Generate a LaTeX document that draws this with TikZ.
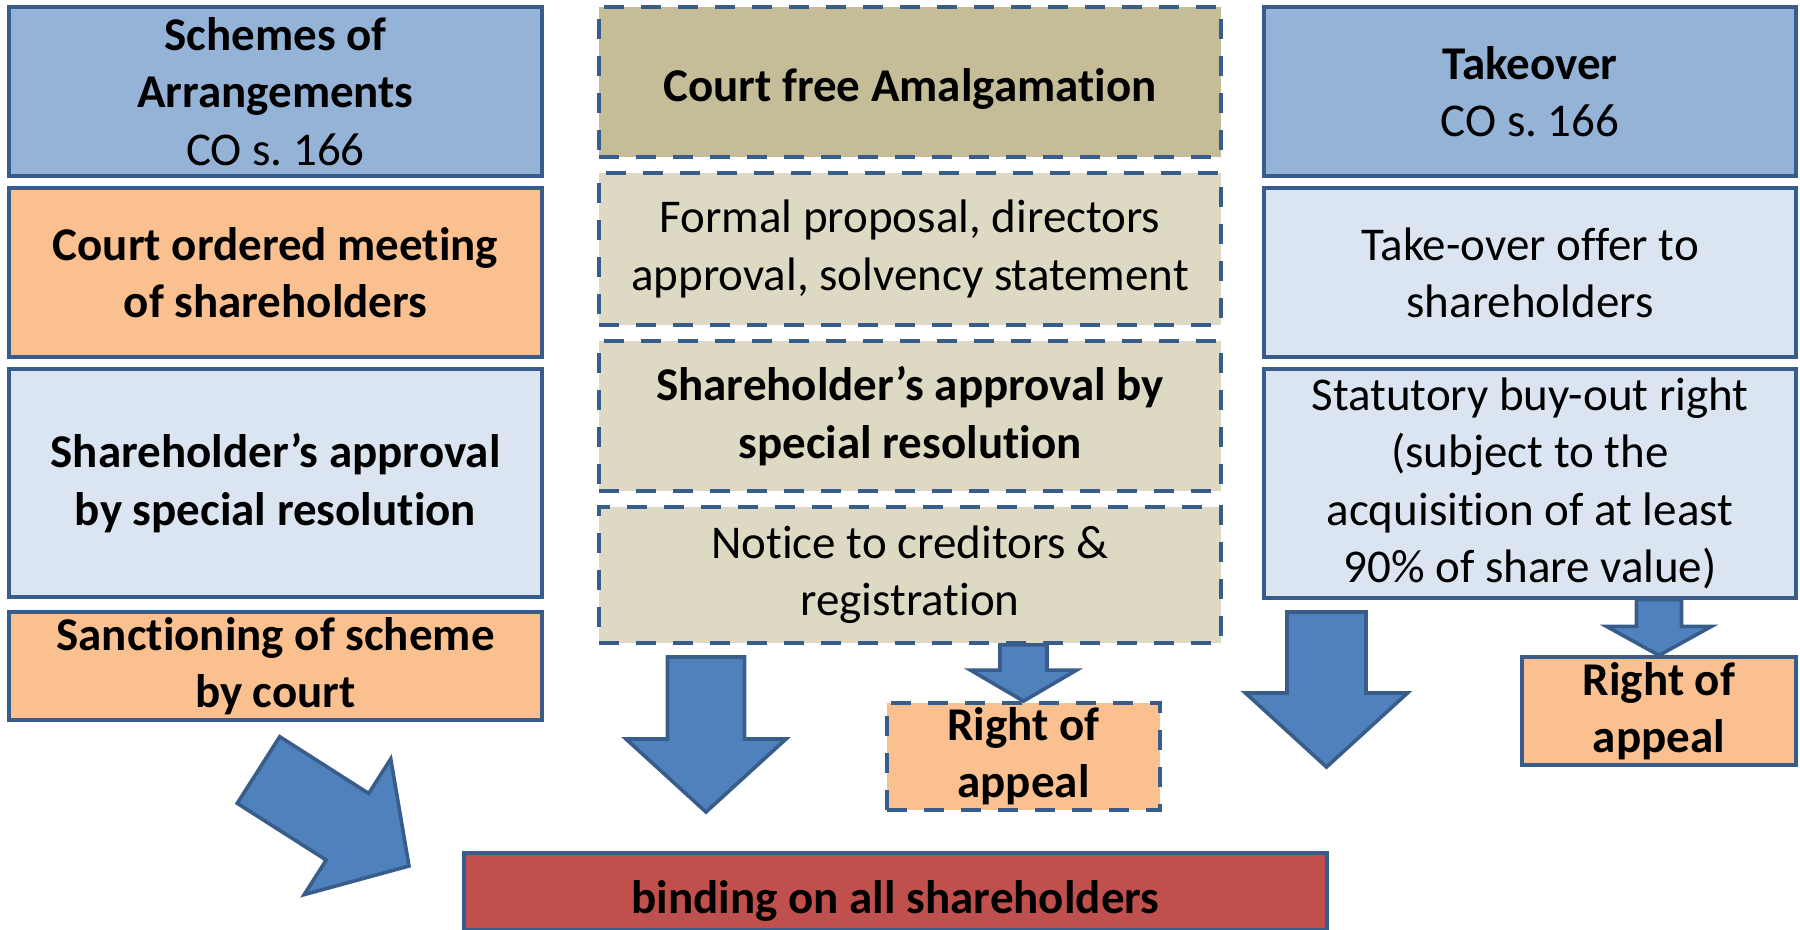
\documentclass[tikz,border=0pt]{standalone}
\usepackage{fontspec}
\setmainfont[Ligatures={NoCommon}]{Carlito}
\usetikzlibrary{calc}

\definecolor{boxline}{HTML}{385D8A}
\definecolor{headblue}{HTML}{95B3D7}
\definecolor{paleblue}{HTML}{DBE5F1}
\definecolor{peach}{HTML}{FAC090}
\definecolor{khaki}{HTML}{C4BD97}
\definecolor{palekhaki}{HTML}{DDD9C3}
\definecolor{brick}{HTML}{C0504D}
\definecolor{arrowblue}{HTML}{4F81BD}

\newcommand{\boxfont}{\fontsize{26.75}{32.6}\selectfont}
\frenchspacing

% tail, tip, shaft half width, head half width, head length
\newcommand{\blockarrow}[5]{%
  \coordinate (hb) at ($(#2)!#5!(#1)$);
  \draw[barrow] ($(#1)!#3!90:(#2)$) -- ($(hb)!#3!90:(#2)$) -- ($(hb)!#4!90:(#2)$) -- (#2)
    -- ($(hb)!#4!-90:(#2)$) -- ($(hb)!#3!-90:(#2)$) -- ($(#1)!#3!-90:(#2)$) -- cycle;
}

\begin{document}
\begin{tikzpicture}[x=0.02cm,y=-0.02cm]
  \tikzstyle{box}=[draw=boxline,line width=0.066cm,inner sep=0pt,align=center,font=\boxfont]
  \tikzstyle{dbox}=[box,line width=0.076cm,dash pattern=on 0.4cm off 0.34cm]
  \tikzstyle{barrow}=[draw=boxline,fill=arrowblue,line width=0.072cm,line join=miter]

  \useasboundingbox (0,0) rectangle (1800,930);

  % schemes of arrangements
  \draw (275.5,91.5) node[box,fill=headblue,minimum width=10.66cm,minimum height=3.38cm] (A1)
    {\textbf{Schemes of}\\\textbf{Arrangements}\\CO s. 166};
  \draw (275.5,272.5) node[box,fill=peach,minimum width=10.66cm,minimum height=3.38cm] (A2)
    {\textbf{Court ordered meeting}\\\textbf{of shareholders}};
  \draw (275.5,483) node[box,fill=paleblue,minimum width=10.66cm,minimum height=4.56cm] (A3)
    {\textbf{Shareholder’s approval}\\\textbf{by special resolution}};
  \draw (275.5,666) node[box,fill=peach,minimum width=10.66cm,minimum height=2.16cm] (A4)
    {\textbf{Sanctioning of scheme}\\\textbf{by court}};

  % amalgamation
  \draw (910,82) node[dbox,fill=khaki,minimum width=12.44cm,minimum height=3cm,text height=0.95cm] (B1)
    {\textbf{Court free Amalgamation}};
  \draw (910,249) node[dbox,fill=palekhaki,minimum width=12.44cm,minimum height=3.04cm] (B2)
    {Formal proposal, directors\\approval, solvency statement};
  \draw (910,416) node[dbox,fill=palekhaki,minimum width=12.44cm,minimum height=3cm] (B3)
    {\textbf{Shareholder’s approval by}\\\textbf{special resolution}};
  \draw (910,575) node[dbox,fill=palekhaki,minimum width=12.44cm,minimum height=2.72cm] (B4)
    {Notice to creditors \&\\registration};
  \draw (1023.5,756.5) node[dbox,fill=peach,minimum width=5.46cm,minimum height=2.14cm] (B5)
    {\textbf{Right of}\\\textbf{appeal}};

  % takeover
  \draw (1530,91.5) node[box,fill=headblue,minimum width=10.64cm,minimum height=3.38cm] (C1)
    {\textbf{Takeover}\\CO s. 166};
  \draw (1530,272.5) node[box,fill=paleblue,minimum width=10.64cm,minimum height=3.38cm] (C2)
    {Take-over offer to\\shareholders};
  \draw (1530,483.5) node[box,fill=paleblue,minimum width=10.64cm,minimum height=4.58cm] (C3)
    {Statutory buy-out right\\(subject to the\\acquisition of at least\\90\% of share value)};
  \draw (1659,711) node[box,fill=peach,minimum width=5.48cm,minimum height=2.16cm] (C4)
    {\textbf{Right of}\\\textbf{appeal}};

  \draw (895.5,891.5) node[box,fill=brick,minimum width=17.26cm,minimum height=1.54cm,text height=1.03cm] (D)
    {\textbf{binding on all shareholders}};

  % block arrows
  \coordinate (bt) at (B5.north |- B4.south);
  \coordinate (ct) at (C4.north |- C3.south);
  \coordinate (dt) at (258.5,770);
  \coordinate (dh) at (409,866);
  \coordinate (mt) at (706,657);
  \coordinate (mh) at (706,812);
  \coordinate (rt) at (1326.5,612);
  \coordinate (rh) at (1326.5,767);

  \blockarrow{bt}{B5.north}{0.47cm}{1.06cm}{0.62cm}
  \blockarrow{ct}{C4.north}{0.45cm}{1.05cm}{0.58cm}
  \blockarrow{dt}{dh}{0.79cm}{1.61cm}{1.46cm}
  \blockarrow{mt}{mh}{0.77cm}{1.6cm}{1.46cm}
  \blockarrow{rt}{rh}{0.79cm}{1.62cm}{1.48cm}

\end{tikzpicture}
\end{document}
